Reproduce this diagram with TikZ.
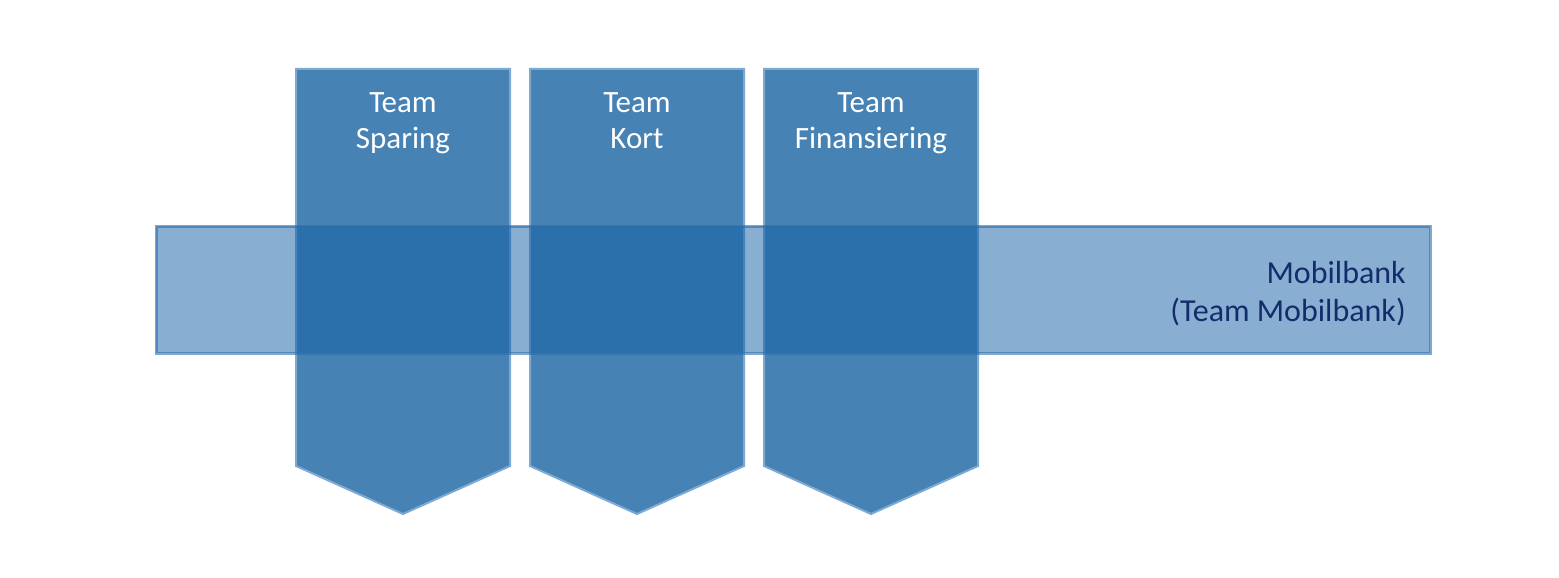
\documentclass[tikz,border=0pt]{standalone}
\usepackage{fontspec}
\setmainfont{Carlito}
\definecolor{colfill}{HTML}{4682B4}
\definecolor{coledge}{HTML}{7DA9D2}
\definecolor{barfill}{HTML}{125EA3}
\definecolor{baredge}{HTML}{2E6DAD}
\definecolor{bartext}{HTML}{142C6C}
\tikzset{
  chevron/.style={fill=colfill, draw=coledge, line width=2pt, line join=miter},
  band/.style={fill=barfill, fill opacity=0.5, draw=baredge, draw opacity=0.6, line width=3pt},
  teamlabel/.style={text=white, font=\fontsize{31}{37}\selectfont, inner sep=0pt, anchor=base},
  bandlabel/.style={text=bartext, font=\fontsize{32}{38}\selectfont, inner sep=0pt, anchor=base east},
}
\begin{document}
\begin{tikzpicture}[x=1pt,y=-1pt]
\useasboundingbox (0,0) rectangle (1559,578);
% three team columns, each a downward chevron
\foreach \l/\c in {296/403, 530/637, 764/871}{
  \draw[chevron] (\l,69) -- (\l+214,69) -- (\l+214,466) -- (\c,514) -- (\l,466) -- cycle;
}
% the shared mobile bank band across all columns
\draw[band] (156,226) rectangle (1430,353);
% column titles, one node per line
\node[teamlabel] (spar1) at (403,112) {Team};
\node[teamlabel] (spar2) at (403,148) {Sparing};
\node[teamlabel] (kort1) at (637,112) {Team};
\node[teamlabel] (kort2) at (637,148) {Kort};
\node[teamlabel] (fin1)  at (871,112) {Team};
\node[teamlabel] (fin2)  at (871,148) {Finansiering};
% band title, right aligned
\node[bandlabel] (mob1) at (1406,283) {Mobilbank};
\node[bandlabel] (mob2) at (1406,321) {(Team Mobilbank)};
\end{tikzpicture}
\end{document}
